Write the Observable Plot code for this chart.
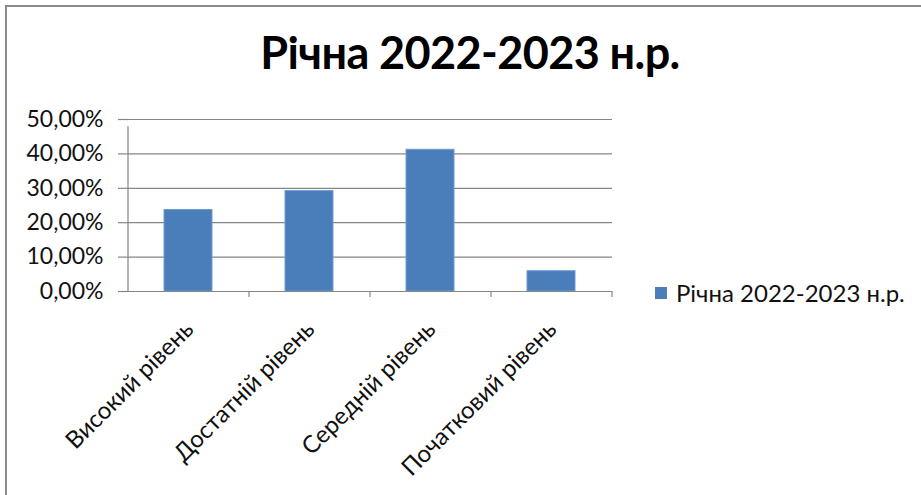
<!DOCTYPE html>
<html>
<head>
<meta charset="utf-8">
<script src="https://cdn.jsdelivr.net/npm/d3@7"></script>
<script src="https://cdn.jsdelivr.net/npm/@observablehq/plot@0.6"></script>
<style>
  html, body { margin: 0; padding: 0; background: #fff; }
  #wrap { position: relative; width: 921px; height: 495px; overflow: hidden; font-family: Lato, "Open Sans", sans-serif; }
  #frame { position: absolute; left: 5px; top: 5px; width: 1000px; height: 600px; border-left: 2.5px solid #8a8a8a; border-top: 2.5px solid #8a8a8a; box-sizing: border-box; }
  #title { position: absolute; left: 0; width: 940px; top: 25px; text-align: center; font-weight: bold; font-size: 45px; color: #000; letter-spacing: -0.6px; }
  #legend { position: absolute; left: 655px; top: 278px; display: flex; align-items: center; font-size: 24px; color: #111; }
  #legend .sw { width: 12px; height: 12px; margin-right: 9px; }
  #chart { position: absolute; left: 0; top: 0; }
</style>
</head>
<body>
<div id="wrap">
  <div id="frame"></div>
  <div id="chart"></div>
  <div id="title"></div>
  <div id="legend"><div class="sw"></div><span class="lab"></span></div>
</div>
<script>
const title = "Річна 2022-2023 н.р.";
const seriesName = "Річна 2022-2023 н.р.";
const categories = ["Високий рівень", "Достатній рівень", "Середній рівень", "Початковий рівень"];
const values = [0.237, 0.292, 0.412, 0.059];
const yTicks = [0, 0.1, 0.2, 0.3, 0.4, 0.5];
const barColor = "#4a7ebb";

const data = categories.map((c, i) => ({category: c, value: values[i]}));
const W = 921, H = 495, mL = 128, mR = 309, mT = 119, mB = 204;
const step = (W - mL - mR) / categories.length;
const fmt = d => d3.format(".2%")(d).replace(".", ",");
const gray = "#868686";

document.getElementById("title").textContent = title;
document.querySelector("#legend .lab").textContent = seriesName;
document.querySelector("#legend .sw").style.background = barColor;

const plot = Plot.plot({
  width: W, height: H,
  marginLeft: mL, marginRight: mR, marginTop: mT, marginBottom: mB,
  style: {background: "transparent", fontFamily: "Lato, 'Open Sans', sans-serif", color: "#111"},
  x: {domain: categories, paddingInner: 0.6, paddingOuter: 0.3},
  y: {domain: [0, 0.5]},
  marks: [
    Plot.gridY(yTicks, {stroke: gray, strokeOpacity: 1, strokeWidth: 1.2}),
    Plot.axisY(yTicks, {tickFormat: fmt, tickSize: 10, tickPadding: 15, fontSize: 23, stroke: gray, strokeOpacity: 1, strokeWidth: 1.2, label: null}),
    Plot.barY(data, {x: "category", y: "value", fill: barColor, stroke: "#6f9bd1", strokeWidth: 1}),
    Plot.ruleY([0], {stroke: gray, strokeWidth: 1.2}),
    Plot.ruleX(categories.slice(0, 1), {x: d => d, dx: -step / 2, y1: 0, y2: 0.5, insetBottom: -7, stroke: gray, strokeWidth: 1.2}),
    Plot.ruleX(categories.slice(1), {x: d => d, dx: -step / 2, y1: 0, y2: 0, insetBottom: -6, stroke: gray, strokeWidth: 1.2}),
    Plot.ruleX(categories.slice(-1), {x: d => d, dx: step / 2, y1: 0, y2: 0, insetBottom: -6, stroke: gray, strokeWidth: 1.2}),
    Plot.axisX({tickSize: 0, tickPadding: 34, dx: 1, tickRotate: -45, fontSize: 24, label: null})
  ]
});
document.getElementById("chart").appendChild(plot);
</script>
</body>
</html>
